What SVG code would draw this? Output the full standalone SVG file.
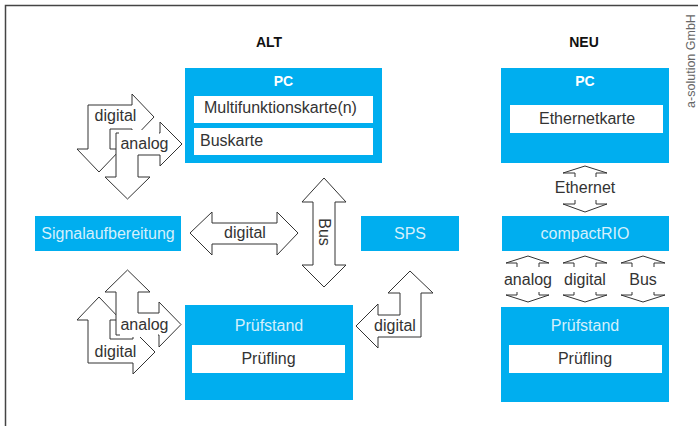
<svg xmlns="http://www.w3.org/2000/svg" width="698" height="426" viewBox="0 0 698 426">
<style>
.box{fill:#00AEEF}
.card{fill:#ffffff}
.ar{fill:#ffffff;stroke:#333333;stroke-width:1;stroke-linejoin:miter}
.bg{fill:#ffffff}
.t{font-family:"Liberation Sans",Arial,sans-serif;font-size:16px;fill:#333333;text-anchor:middle}
.tl{font-family:"Liberation Sans",Arial,sans-serif;font-size:16px;fill:#d4f0fc;text-anchor:middle}
.th{font-family:"Liberation Sans",Arial,sans-serif;font-size:14px;font-weight:bold;fill:#ffffff;text-anchor:middle}
.title{font-family:"Liberation Sans",Arial,sans-serif;font-size:14px;font-weight:bold;fill:#111111;text-anchor:middle}
</style>
<rect width="698" height="426" fill="#ffffff"/>
<path d="M5.5,426 V5.5 H698" fill="none" stroke="#444444" stroke-width="1.5"/>
<text class="title" x="269" y="47">ALT</text>
<text class="title" x="584" y="47">NEU</text>
<text transform="translate(695,61) rotate(-90)" font-family="Liberation Sans, Arial, sans-serif" font-size="12.5" fill="#666666" text-anchor="middle">a-solution GmbH</text>

<g id="alt-pc">
<rect class="box" x="185" y="68" width="197" height="95"/>
<text class="th" x="283.5" y="86">PC</text>
<rect class="card" x="194" y="96" width="179" height="27"/>
<text class="t" x="204" y="113" style="text-anchor:start">Multifunktionskarte(n)</text>
<rect class="card" x="194" y="128" width="179" height="27"/>
<text class="t" x="200" y="146" style="text-anchor:start">Buskarte</text>
</g>
<g id="signalaufbereitung">
<rect class="box" x="35" y="216" width="146" height="35"/>
<text class="tl" x="108" y="239">Signalaufbereitung</text>
</g>
<g id="sps">
<rect class="box" x="361" y="216" width="98" height="35"/>
<text class="tl" x="410" y="239">SPS</text>
</g>
<g id="alt-pruefstand">
<rect class="box" x="185" y="305" width="168" height="95"/>
<text class="tl" x="269" y="331">Prüfstand</text>
<rect class="card" x="192" y="345" width="153" height="28"/>
<text class="t" x="268.5" y="364">Prüfling</text>
</g>
<g id="neu-pc">
<rect class="box" x="501" y="68" width="168" height="95"/>
<text class="th" x="585" y="86">PC</text>
<rect class="card" x="510" y="105" width="153" height="28"/>
<text class="t" x="587" y="124">Ethernetkarte</text>
</g>
<g id="compactrio">
<rect class="box" x="502" y="216" width="167" height="35"/>
<text class="tl" x="585" y="239">compactRIO</text>
</g>
<g id="neu-pruefstand">
<rect class="box" x="501" y="307" width="168" height="95"/>
<text class="tl" x="585" y="331">Prüfstand</text>
<rect class="card" x="509" y="345" width="153" height="28"/>
<text class="t" x="585" y="364">Prüfling</text>
</g>

<g id="connectors">
<polygon class="ar" points="88,105 132,105 132,94 154,117 132,140 132,129 110,129 110,149 121,149 99,172 77,149 88,149"/>
<polygon class="ar" points="116,133 160,133 160,122 182,144 160,166 160,155 138,155 138,177 150,177 127.5,199 105,177 116,177"/>
<rect class="bg" x="119" y="130" width="40" height="24"/>
<text class="t" x="115.5" y="121">digital</text>
<text class="t" x="144.5" y="149">analog</text>

<polygon class="ar" points="88,363 133,363 133,374 155,352 133,330 133,339 110,339 110,320 121,320 99,297 77,320 88,320"/>
<polygon class="ar" points="116,335 159,335 159,347 181,324.5 159,302 159,313 138,313 138,292 150,292 127.5,270 105,292 116,292"/>
<rect class="bg" x="120" y="315" width="38" height="22"/>
<text class="t" x="144.5" y="330">analog</text>
<text class="t" x="115.5" y="357">digital</text>

<polygon class="ar" points="190,233 212,212 212,223 277,223 277,212 298,233 277,255 277,244 212,244 212,255"/>
<text class="t" x="245" y="238">digital</text>

<polygon class="ar" points="324,178 346,202 335,202 335,265 346,265 324,287 302,265 313,265 313,202 302,202"/>
<text class="t" transform="translate(319,232) rotate(90)">Bus</text>

<polygon class="ar" points="410,271 433,293 421,293 421,337 378,337 378,348 356,326 378,304 378,315 400,315 400,293 388,293"/>
<text class="t" x="395" y="331">digital</text>

<polygon class="ar" points="585,166 607,173 596,173 596,204 607,204 585,212 563,204 575,204 575,173 563,173"/>
<rect class="bg" x="553" y="177" width="64" height="23"/>
<text class="t" x="585" y="193">Ethernet</text>

<polygon class="ar" points="528,256 549,263 539,263 539,295 549,295 528,302 506,295 517,295 517,263 506,263"/>
<rect class="bg" x="502" y="267" width="52" height="25"/>
<text class="t" x="528" y="285">analog</text>

<polygon class="ar" points="585,256 607,263 596,263 596,295 607,295 585,302 563,295 574,295 574,263 563,263"/>
<rect class="bg" x="559" y="267" width="52" height="25"/>
<text class="t" x="585" y="285">digital</text>

<polygon class="ar" points="643,256 665,263 654,263 654,295 665,295 643,302 621,295 632,295 632,263 621,263"/>
<rect class="bg" x="620" y="267" width="46" height="25"/>
<text class="t" x="643" y="285">Bus</text>
</g>
</svg>
